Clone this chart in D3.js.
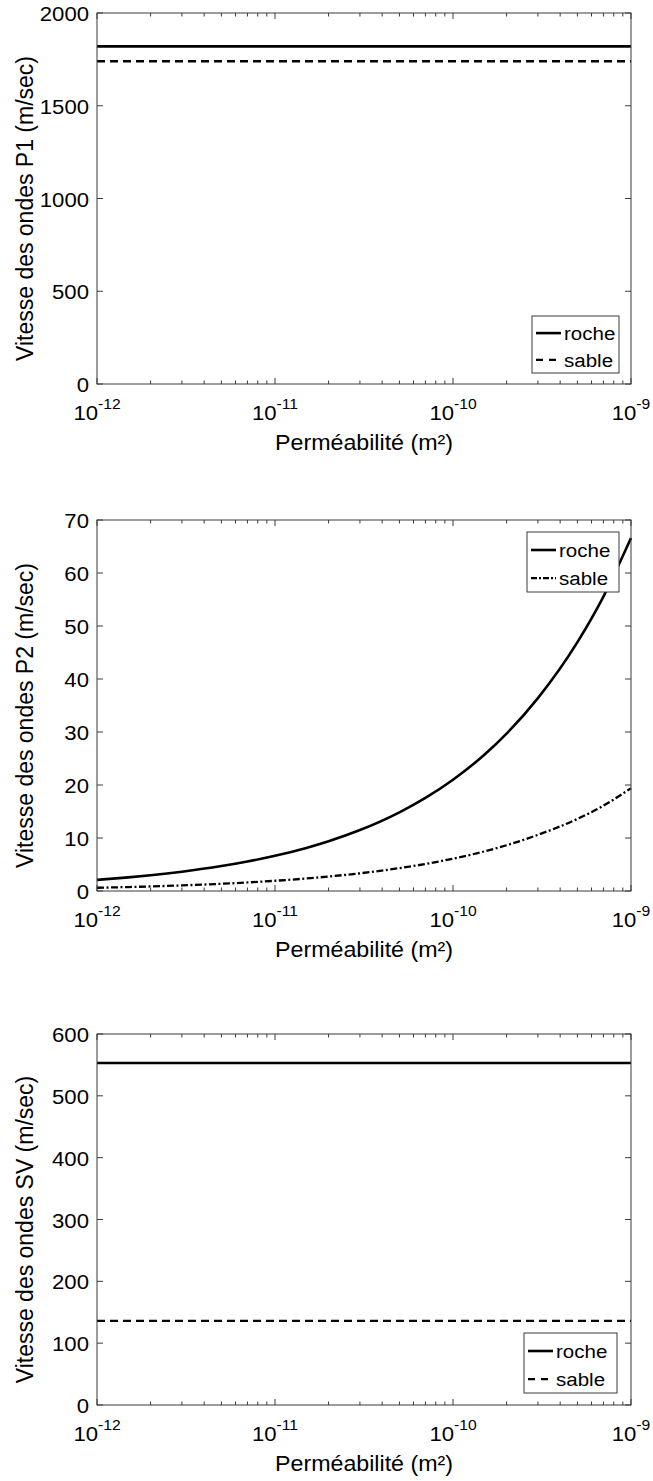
<!DOCTYPE html>
<html><head><meta charset="utf-8">
<script src="https://cdn.jsdelivr.net/npm/d3@7"></script>
<style>body{margin:0;background:#fff}svg text{font-family:Arial,"Liberation Sans",sans-serif;fill:#000}</style>
</head><body><svg id="c" width="653" height="1481"></svg>
<script>
// ---- data ----
const xDomain = [1e-12, 1e-9];
const xTickExps = [-12, -11, -10, -9];
const xLabel = "Perméabilité (m²)";
const seriesNames = ["roche", "sable"];

// Panel 1: P1 waves (constant)
const p1X = [1e-12, 1e-9];
const p1Roche = [1820, 1820];
const p1Sable = [1740, 1740];
const p1Ticks = [0, 500, 1000, 1500, 2000];

// Panel 2: P2 waves
const p2X = [1e-12,1.5e-12,2e-12,3e-12,5e-12,7e-12,1e-11,1.5e-11,2e-11,3e-11,5e-11,7e-11,1e-10,1.5e-10,2e-10,3e-10,5e-10,7e-10,1e-9];
const p2Roche = [2.1,2.57,2.97,3.64,4.70,5.56,6.64,8.13,9.39,11.5,14.85,17.57,21.0,25.7,29.7,36.4,46.96,55.56,66.6];
const p2Sable = [0.61,0.75,0.86,1.06,1.36,1.61,1.93,2.36,2.73,3.34,4.31,5.10,6.1,7.47,8.63,10.6,13.6,16.1,19.4];
const p2Ticks = [0,10,20,30,40,50,60,70];

// Panel 3: SV waves (constant)
const p3X = [1e-12, 1e-9];
const p3Roche = [553, 553];
const p3Sable = [136, 136];
const p3Ticks = [0,100,200,300,400,500,600];

const svg = d3.select("#c");
const axisColor = "#3a3a3a";
const SX = 1.08; // horizontal stretch of the reference text

function stext(g, x, y, size, anchor){
  return g.append("text").attr("transform", `translate(${x},${y}) scale(${SX},1)`)
    .attr("text-anchor", anchor).style("font-size", size + "px");
}

function panel(cfg){
  const L = 97, R = 631, T = cfg.top, B = cfg.top + 371;
  const g = svg.append("g");
  const x = d3.scaleLog().domain(xDomain).range([L, R]);
  const y = d3.scaleLinear().domain(cfg.yDomain).range([B, T]);

  const line = d3.line().x(d => x(d[0])).y(d => y(d[1])).curve(d3.curveMonotoneX);
  const sets = [
    {vals: cfg.roche, w: 2.6, dash: null},
    {vals: cfg.sable, w: 2.3, dash: cfg.sableDash}
  ];
  sets.forEach(s => {
    g.append("path").datum(cfg.x.map((xv,i)=>[xv, s.vals[i]]))
      .attr("d", line).attr("fill","none").attr("stroke","#000")
      .attr("stroke-width", s.w).attr("stroke-dasharray", s.dash);
  });

  g.append("rect").attr("x",L).attr("y",T).attr("width",R-L).attr("height",B-T)
    .attr("fill","none").attr("stroke",axisColor).attr("stroke-width",1);

  const minor = [];
  for (let e=-12; e<-9; e++) for (let m=2; m<=9; m++) minor.push(m*Math.pow(10,e));
  const major = xTickExps.map(e => Math.pow(10,e));
  [[major,6],[minor,3.5]].forEach(([arr,len]) => {
    arr.forEach(v => {
      g.append("line").attr("x1",x(v)).attr("x2",x(v)).attr("y1",B).attr("y2",B-len).attr("stroke",axisColor);
      g.append("line").attr("x1",x(v)).attr("x2",x(v)).attr("y1",T).attr("y2",T+len).attr("stroke",axisColor);
    });
  });
  xTickExps.forEach(e => {
    const t = stext(g, x(Math.pow(10,e)), B+36, 20.5, "middle");
    t.append("tspan").text("10");
    t.append("tspan").attr("dy",-11).style("font-size","14.5px").text("-" + Math.abs(e));
  });

  cfg.yTicks.forEach(v => {
    g.append("line").attr("x1",L).attr("x2",L+6).attr("y1",y(v)).attr("y2",y(v)).attr("stroke",axisColor);
    g.append("line").attr("x1",R).attr("x2",R-6).attr("y1",y(v)).attr("y2",y(v)).attr("stroke",axisColor);
    stext(g, L-8, y(v)+8, 20.5, "end").text(v);
  });

  stext(g, (L+R)/2, B+66, 21.5, "middle").text(xLabel);
  g.append("text").attr("transform",`translate(33,${(T+B)/2+10}) rotate(-90) scale(1,${SX})`)
    .attr("text-anchor","middle").style("font-size","23px").text(cfg.yLabel);

  const lg = cfg.legend;
  g.append("rect").attr("x",lg.x).attr("y",lg.y).attr("width",lg.w).attr("height",lg.h)
    .attr("fill","#fff").attr("stroke",axisColor).attr("stroke-width",1);
  const rows = [lg.y + lg.h*0.3, lg.y + lg.h*0.77];
  seriesNames.forEach((name,i) => {
    g.append("line").attr("x1",lg.x+4).attr("x2",lg.x+29).attr("y1",rows[i]).attr("y2",rows[i])
      .attr("stroke","#000").attr("stroke-width", i===0?2.6:2.3)
      .attr("stroke-dasharray", i===0?null:cfg.legendDash);
    stext(g, lg.x+32, rows[i]+7, 19, "start").text(name);
  });
}

panel({top:13, yDomain:[0,2000], yTicks:p1Ticks, x:p1X, roche:p1Roche, sable:p1Sable,
  sableDash:"8,5", legendDash:"7,6", yLabel:"Vitesse des ondes P1 (m/sec)",
  legend:{x:532,y:316,w:87,h:57}});
panel({top:520, yDomain:[0,70], yTicks:p2Ticks, x:p2X, roche:p2Roche, sable:p2Sable,
  sableDash:"7,2.5,2,2.5", legendDash:"6,2,2,2", yLabel:"Vitesse des ondes P2 (m/sec)",
  legend:{x:527,y:532,w:92,h:60}});
panel({top:1034, yDomain:[0,600], yTicks:p3Ticks, x:p3X, roche:p3Roche, sable:p3Sable,
  sableDash:"8,5", legendDash:"7,6", yLabel:"Vitesse des ondes SV (m/sec)",
  legend:{x:524,y:1333,w:93,h:60}});
</script></body></html>
